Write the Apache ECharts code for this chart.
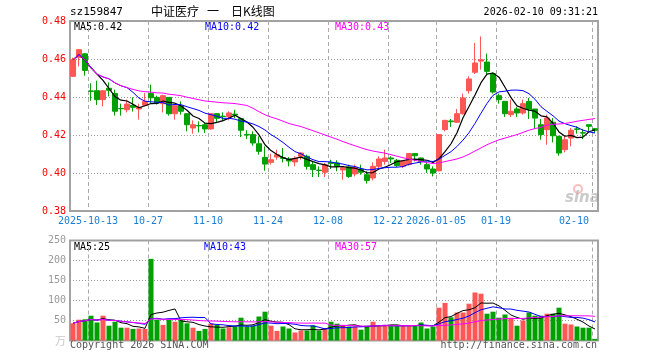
<!DOCTYPE html>
<html><head><meta charset="utf-8">
<script src="https://cdn.jsdelivr.net/npm/echarts@6/dist/echarts.min.js"></script>
<style>html,body{margin:0;padding:0;background:#fff}#c{width:660px;height:360px}</style>
</head><body><div id="c"></div>
<script>
const dates = ['2025-09-30','2025-10-09','2025-10-10','2025-10-13','2025-10-14','2025-10-15','2025-10-16','2025-10-17','2025-10-20','2025-10-21','2025-10-22','2025-10-23','2025-10-24','2025-10-27','2025-10-28','2025-10-29','2025-10-30','2025-10-31','2025-11-03','2025-11-04','2025-11-05','2025-11-06','2025-11-07','2025-11-10','2025-11-11','2025-11-12','2025-11-13','2025-11-14','2025-11-17','2025-11-18','2025-11-19','2025-11-20','2025-11-21','2025-11-24','2025-11-25','2025-11-26','2025-11-27','2025-11-28','2025-12-01','2025-12-02','2025-12-03','2025-12-04','2025-12-05','2025-12-08','2025-12-09','2025-12-10','2025-12-11','2025-12-12','2025-12-15','2025-12-16','2025-12-17','2025-12-18','2025-12-19','2025-12-22','2025-12-23','2025-12-24','2025-12-25','2025-12-26','2025-12-29','2025-12-30','2025-12-31','2026-01-05','2026-01-06','2026-01-07','2026-01-08','2026-01-09','2026-01-12','2026-01-13','2026-01-14','2026-01-15','2026-01-16','2026-01-19','2026-01-20','2026-01-21','2026-01-22','2026-01-23','2026-01-26','2026-01-27','2026-01-28','2026-01-29','2026-01-30','2026-02-02','2026-02-03','2026-02-04','2026-02-05','2026-02-06','2026-02-09','2026-02-10'];

const openVals  = [.4509,.4609,.4627,.4432,.4433,.4386,.4446,.4418,.4340,.4333,.4356,.4337,.4356,.4418,.4398,.4365,.4398,.4312,.4354,.4312,.4237,.4250,.4254,.4232,.4312,.4299,.4298,.4310,.4286,.4203,.4202,.4154,.4082,.4056,.4084,.4081,.4074,.4058,.4088,.4088,.4044,.4015,.4004,.4054,.4053,.4016,.4032,.3995,.4021,.3991,.3974,.4035,.4061,.4079,.4067,.4035,.4044,.4102,.4079,.4044,.4021,.4012,.4228,.4274,.4267,.4312,.4433,.4530,.4589,.4584,.4523,.4407,.4377,.4307,.4337,.4316,.4377,.4337,.4254,.4228,.4267,.4193,.4123,.4184,.4232,.4212,.4254,.4233];
const closeVals = [.4596,.4649,.4540,.4430,.4386,.4433,.4435,.4325,.4338,.4363,.4346,.4346,.4377,.4396,.4368,.4407,.4312,.4354,.4325,.4254,.4254,.4248,.4232,.4312,.4288,.4297,.4316,.4305,.4225,.4200,.4158,.4114,.4047,.4070,.4096,.4077,.4063,.4077,.4105,.4035,.4018,.4013,.4044,.4051,.4035,.4028,.3982,.4030,.4004,.3961,.4035,.4074,.4079,.4074,.4039,.4061,.4102,.4091,.4061,.4021,.4000,.4202,.4277,.4270,.4312,.4395,.4495,.4579,.4596,.4535,.4426,.4386,.4312,.4325,.4316,.4365,.4333,.4289,.4202,.4289,.4196,.4105,.4175,.4225,.4230,.4210,.4246,.4225];
const lowVals   = [.4505,.4561,.4512,.4380,.4358,.4351,.4403,.4302,.4302,.4319,.4323,.4281,.4351,.4368,.4360,.4319,.4302,.4281,.4307,.4219,.4207,.4214,.4211,.4228,.4263,.4272,.4277,.4289,.4189,.4179,.4144,.4096,.4012,.4044,.4070,.4056,.4035,.4035,.4070,.4018,.3979,.3979,.3979,.4021,.4009,.3965,.3974,.3982,.3991,.3944,.3961,.4026,.4044,.4053,.4032,.4026,.4039,.4061,.4044,.4000,.3982,.4008,.4219,.4242,.4263,.4307,.4418,.4521,.4544,.4518,.4418,.4365,.4295,.4295,.4295,.4307,.4284,.4232,.4175,.4149,.4161,.4091,.4109,.4140,.4207,.4179,.4219,.4211];
const highVals  = [.4607,.4652,.4630,.4472,.4486,.4435,.4477,.4439,.4365,.4386,.4398,.4365,.4421,.4465,.4407,.4412,.4400,.4360,.4377,.4314,.4277,.4272,.4263,.4316,.4314,.4319,.4325,.4333,.4289,.4225,.4219,.4193,.4140,.4102,.4123,.4132,.4084,.4088,.4109,.4096,.4061,.4035,.4053,.4070,.4067,.4032,.4044,.4044,.4044,.4009,.4056,.4088,.4123,.4088,.4074,.4067,.4104,.4105,.4081,.4061,.4035,.4204,.4280,.4284,.4337,.4418,.4509,.4684,.4719,.4628,.4530,.4418,.4377,.4386,.4347,.4386,.4395,.4337,.4284,.4307,.4289,.4196,.4196,.4237,.4246,.4232,.4254,.4237];
const volumeVals = [43,52,53,62,45,62,37,47,32,32,29,30,29,204,52,39,52,47,53,43,32,24,29,43,39,30,33,35,57,35,37,60,72,37,24,35,30,20,25,25,38,25,31,47,42,37,35,35,27,37,47,35,39,37,37,37,37,37,45,30,35,82,94,58,70,70,92,120,117,67,72,57,65,57,37,50,70,62,62,67,67,82,42,40,35,32,32,4];

const tickIndex  = [3,13,23,33,43,53,61,71,87];
const tickLabels = ['2025-10-13','10-27','11-10','11-24','12-08','12-22','2026-01-05','01-19','02-10'];
const priceTicks = [0.38,0.40,0.42,0.44,0.46,0.48];
const volTicks = [0,50,100,150,200,250];

const titleCode = 'sz159847';
const titleParts = ['中证医疗', '一', '日K线图'];
const timeText = '2026-02-10 09:31:21';
const priceLegend = ['MA5:0.42','MA10:0.42','MA30:0.43'];
const volLegend = ['MA5:25','MA10:43','MA30:57'];

function ma(arr, n) {
  return arr.map((_, i) => {
    const s = Math.max(0, i - n + 1);
    let sum = 0;
    for (let k = s; k <= i; k++) sum += arr[k];
    return +(sum / (i - s + 1)).toFixed(5);
  });
}

const RED = '#ff5656', GREEN = '#00a000';
const kData = dates.map((d, i) => [openVals[i], closeVals[i], lowVals[i], highVals[i]]);
const volData = volumeVals.map((v, i) => ({
  value: v,
  itemStyle: { color: closeVals[i] >= openVals[i] ? RED : GREEN }
}));

const FONT = 'DejaVu Sans Mono';
const chart = echarts.init(document.getElementById('c'), null, { renderer: 'canvas' });

function xAxisCfg(gridIndex, showLabels) {
  return {
    type: 'category', gridIndex, data: dates, boundaryGap: true,
    axisLine: { show: false }, axisTick: { show: false },
    axisLabel: {
      show: showLabels,
      interval: (idx) => tickIndex.includes(idx),
      formatter: (v, idx) => { const k = tickIndex.indexOf(idx); return k >= 0 ? tickLabels[k] : ''; },
      color: '#1a7fd4', fontFamily: FONT, fontSize: 10, margin: 5,
      padding: [0, 6, 0, 0], alignMaxLabel: 'right'
    },
    splitLine: { show: false }
  };
}

function vLines(xi) {
  return {
    type: 'custom', xAxisIndex: xi, yAxisIndex: xi, silent: true, z: 1,
    data: tickIndex.map(i => [i, 0]),
    encode: { x: 0, y: 1 },
    renderItem: (params, api) => {
      const cs = params.coordSys;
      const band = api.size([1, 0])[0];
      const x = Math.round(api.coord([api.value(0), 0])[0] - band / 2) + 0.5;
      return {
        type: 'line',
        shape: { x1: x, y1: cs.y, x2: x, y2: cs.y + cs.height },
        style: { stroke: '#aaaaaa', lineWidth: 1, lineDash: [4, 3] }
      };
    }
  };
}

const option = {
  animation: false,
  backgroundColor: '#ffffff',
  grid: [
    { left: 70, right: 62, top: 21, height: 190, show: true, borderColor: '#a3a3a3', borderWidth: 2, backgroundColor: 'transparent' },
    { left: 70, right: 62, top: 240.5, height: 100, show: true, borderColor: '#a3a3a3', borderWidth: 2, backgroundColor: 'transparent' }
  ],
  xAxis: [xAxisCfg(0, true), xAxisCfg(1, false)],
  yAxis: [
    {
      type: 'value', gridIndex: 0, min: priceTicks[0], max: priceTicks[priceTicks.length - 1], interval: 0.02,
      axisLine: { show: false }, axisTick: { show: false },
      axisLabel: { color: '#ff0000', fontFamily: FONT, fontSize: 10, margin: 4, formatter: v => v.toFixed(2) },
      splitLine: { lineStyle: { color: '#999999', type: [1, 2] } }
    },
    {
      type: 'value', gridIndex: 1, min: volTicks[0], max: volTicks[volTicks.length - 1], interval: 50,
      axisLine: { show: false }, axisTick: { show: false },
      axisLabel: {
        color: '#999999', fontFamily: FONT, fontSize: 10, margin: 4,
        formatter: v => v === 0 ? '{u|万}' : String(v),
        rich: { u: { color: '#c8c8c8', fontSize: 11, fontFamily: 'Noto Sans CJK SC' } }
      },
      splitLine: { lineStyle: { color: '#999999', type: [1, 2] } }
    }
  ],
  series: [
    vLines(0),
    vLines(1),
    {
      type: 'candlestick', xAxisIndex: 0, yAxisIndex: 0, data: kData, barWidth: 5, z: 3,
      itemStyle: { color: RED, color0: GREEN, borderColor: RED, borderColor0: GREEN, borderWidth: 1 }
    },
    { type: 'line', xAxisIndex: 0, yAxisIndex: 0, data: ma(closeVals, 5), showSymbol: false, z: 4, lineStyle: { color: '#000000', width: 1.2 } },
    { type: 'line', xAxisIndex: 0, yAxisIndex: 0, data: ma(closeVals, 10), showSymbol: false, z: 4, lineStyle: { color: '#0000ff', width: 1 } },
    { type: 'line', xAxisIndex: 0, yAxisIndex: 0, data: ma(closeVals, 30), showSymbol: false, z: 4, lineStyle: { color: '#ff00ff', width: 1 } },
    { type: 'bar', xAxisIndex: 1, yAxisIndex: 1, data: volData, barWidth: 5, z: 3 },
    { type: 'line', xAxisIndex: 1, yAxisIndex: 1, data: ma(volumeVals, 5), showSymbol: false, z: 4, lineStyle: { color: '#000000', width: 1 } },
    { type: 'line', xAxisIndex: 1, yAxisIndex: 1, data: ma(volumeVals, 10), showSymbol: false, z: 4, lineStyle: { color: '#0000ff', width: 1 } },
    { type: 'line', xAxisIndex: 1, yAxisIndex: 1, data: ma(volumeVals, 30), showSymbol: false, z: 4, lineStyle: { color: '#ff00ff', width: 1 } }
  ],
  graphic: [
    { type: 'text', left: 70, top: 7, style: { text: titleCode, font: '11px "DejaVu Sans Mono"', fill: '#000' } },
    { type: 'text', left: 151, top: 5, style: { text: titleParts[0], font: '12px "Noto Sans CJK SC"', fill: '#000' } },
    { type: 'text', left: 207, top: 5, style: { text: titleParts[1], font: '12px "Noto Sans CJK SC"', fill: '#000' } },
    { type: 'text', left: 231, top: 5, style: { text: titleParts[2], font: '12px "Noto Sans CJK SC"', fill: '#000' } },
    { type: 'text', right: 62, top: 7, style: { text: timeText, font: '10px "DejaVu Sans Mono"', fill: '#000' } },
    { type: 'text', left: 74, top: 22, style: { text: priceLegend[0], font: '10px "DejaVu Sans Mono"', fill: '#000' } },
    { type: 'text', left: 205, top: 22, style: { text: priceLegend[1], font: '10px "DejaVu Sans Mono"', fill: '#0000ff' } },
    { type: 'text', left: 335, top: 22, style: { text: priceLegend[2], font: '10px "DejaVu Sans Mono"', fill: '#ff00ff' } },
    { type: 'text', left: 74, top: 242, style: { text: volLegend[0], font: '10px "DejaVu Sans Mono"', fill: '#000' } },
    { type: 'text', left: 204, top: 242, style: { text: volLegend[1], font: '10px "DejaVu Sans Mono"', fill: '#0000ff' } },
    { type: 'text', left: 335, top: 242, style: { text: volLegend[2], font: '10px "DejaVu Sans Mono"', fill: '#ff00ff' } },
    { type: 'text', left: 70, top: 340, style: { text: 'Copyright 2026 SINA.COM', font: '10px "DejaVu Sans Mono"', fill: '#555' } },
    { type: 'text', right: 63, top: 340, style: { text: 'http://finance.sina.com.cn', font: '10px "DejaVu Sans Mono"', fill: '#555' } },
    { type: 'circle', shape: { cx: 578, cy: 189, r: 4 }, style: { fill: 'none', stroke: 'rgba(235,110,110,0.45)', lineWidth: 2 } },
    { type: 'text', left: 565, top: 191, style: { text: 'sina', font: 'italic bold 15px "DejaVu Sans"', fill: 'rgba(150,150,150,0.5)' } }
  ]
};
chart.setOption(option);
</script></body></html>
